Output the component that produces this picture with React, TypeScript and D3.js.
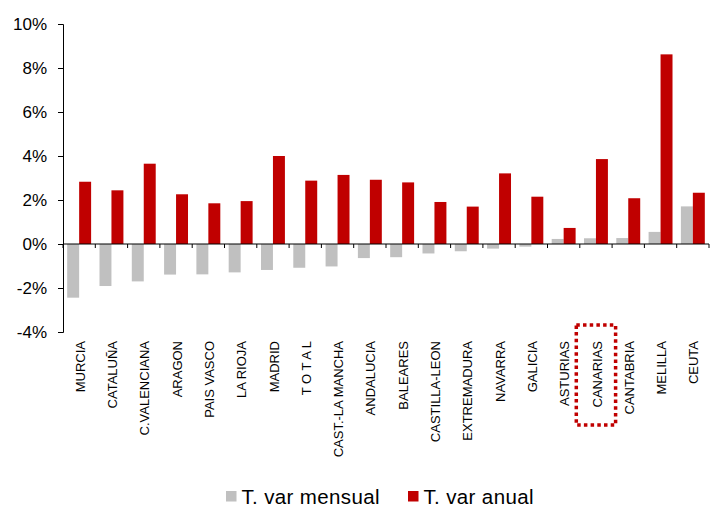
import * as d3 from 'd3'
import { useEffect, useRef } from 'react'

const regions = [
    'MURCIA', 'CATALUÑA', 'C.VALENCIANA', 'ARAGON', 'PAIS VASCO', 'LA RIOJA', 'MADRID', 'T O T A L',
    'CAST.-LA MANCHA', 'ANDALUCIA', 'BALEARES', 'CASTILLA-LEON', 'EXTREMADURA', 'NAVARRA',
    'GALICIA', 'ASTURIAS', 'CANARIAS', 'CANTABRIA', 'MELILLA', 'CEUTA'
]
const varMensual = [-2.44, -1.91, -1.70, -1.39, -1.38, -1.29, -1.18, -1.08, -1.02, -0.64,
    -0.60, -0.43, -0.33, -0.21, -0.12, 0.23, 0.26, 0.27, 0.55, 1.71]
const varAnual = [2.83, 2.44, 3.65, 2.26, 1.85, 1.95, 4.0, 2.88, 3.14, 2.92,
    2.80, 1.91, 1.70, 3.21, 2.15, 0.73, 3.86, 2.08, 8.62, 2.33]
const yTicks = [-4, -2, 0, 2, 4, 6, 8, 10]
const seriesNames = ['T. var mensual', 'T. var anual']
const highlighted = 'CANARIAS'

const GREY = '#c0c0c0'
const RED = '#c00000'
const FONT = '"Liberation Sans", Arial, sans-serif'

export default function App() {
    const ref = useRef<SVGSVGElement>(null)

    useEffect(() => {
        const width = 711
        const height = 508
        const left = 63, right = 709, top = 24, bottom = 332

        const svg = d3.select(ref.current)
        svg.selectAll('*').remove()
        svg.attr('width', width).attr('height', height)

        const x = d3.scaleBand<string>().domain(regions).range([left, right])
        const sub = d3.scaleBand<number>().domain([0, 1]).range([0, x.bandwidth()]).paddingOuter(0.35)
        const y = d3.scaleLinear().domain([-4, 10]).range([bottom, top])

        // bars
        const series = [varMensual, varAnual]
        series.forEach((vals, s) => {
            svg.append('g')
                .attr('fill', s === 0 ? GREY : RED)
                .selectAll('rect')
                .data(vals)
                .join('rect')
                    .attr('x', (d, i) => x(regions[i])! + sub(s)!)
                    .attr('y', d => y(Math.max(0, d)))
                    .attr('width', sub.bandwidth())
                    .attr('height', d => Math.abs(y(d) - y(0)))
        })

        // y axis
        const yAxis = svg.append('g')
            .attr('transform', `translate(${left},0)`)
            .call(d3.axisLeft(y).tickValues(yTicks).tickSize(5).tickPadding(11).tickFormat(d => `${d}%`))
        yAxis.select('.domain').attr('stroke', '#000')
        yAxis.selectAll('text').attr('font-family', FONT).attr('font-size', 17).attr('fill', '#000')

        // x axis at zero
        const bounds = regions.map(r => x(r)!).concat([right])
        const xg = svg.append('g')
        xg.append('line')
            .attr('x1', left).attr('x2', right)
            .attr('y1', y(0)).attr('y2', y(0))
            .attr('stroke', '#000')
        xg.selectAll('line.tick')
            .data(bounds)
            .join('line')
                .attr('class', 'tick')
                .attr('x1', d => d).attr('x2', d => d)
                .attr('y1', y(0)).attr('y2', y(0) + 4)
                .attr('stroke', '#000')

        // category labels
        svg.append('g')
            .selectAll('text')
            .data(regions)
            .join('text')
                .attr('transform', d => `translate(${x(d)! + x.bandwidth() / 2 + 1},341) rotate(-90)`)
                .attr('dy', '0.35em')
                .attr('text-anchor', 'end')
                .attr('font-family', FONT)
                .attr('font-size', 13)
                .attr('fill', '#000')
                .text(d => d)

        // dotted highlight
        svg.append('rect')
            .attr('x', x(highlighted)! - 3.5)
            .attr('y', 325)
            .attr('width', x.bandwidth() + 7)
            .attr('height', 100)
            .attr('fill', 'none')
            .attr('stroke', RED)
            .attr('stroke-width', 3.5)
            .attr('stroke-dasharray', '3.5 3.2')

        // legend
        const legendX = [226, 408]
        const lg = svg.append('g')
        seriesNames.forEach((name, i) => {
            lg.append('rect')
                .attr('x', legendX[i]).attr('y', 491)
                .attr('width', 10.5).attr('height', 10.5)
                .attr('fill', i === 0 ? GREY : RED)
            lg.append('text')
                .attr('x', legendX[i] + 15.5).attr('y', 503.5)
                .attr('font-family', FONT)
                .attr('font-size', 20.5)
                .attr('textLength', i === 0 ? 138 : 110)
                .attr('fill', '#000')
                .text(name)
        })
    }, [])

    return (
        <svg ref={ref} style={{ position: 'absolute', left: 0, top: 0, background: '#fff' }}></svg>
    )
}
